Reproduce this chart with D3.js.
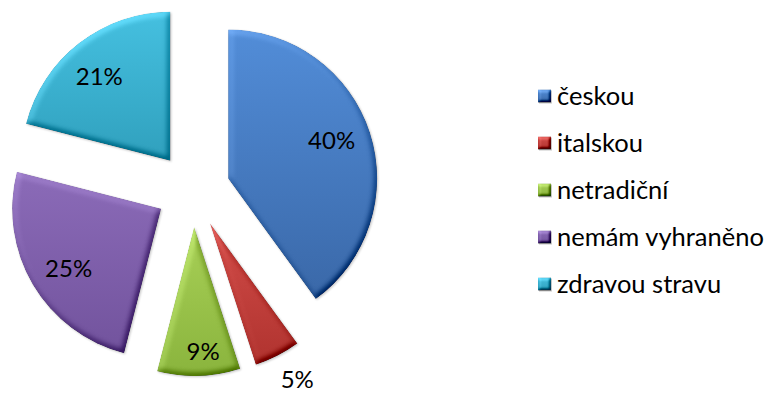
<!DOCTYPE html>
<html>
<head>
<meta charset="utf-8">
<script src="https://cdn.jsdelivr.net/npm/d3@7"></script>
<style>
  html, body { margin: 0; padding: 0; background: #fff; }
  svg { display: block; font-family: Lato, "Open Sans", sans-serif; }
</style>
</head>
<body>
<svg id="chart" width="767" height="394"></svg>
<script>
// Preferred cuisine survey – share of answers
const categories = ["českou", "italskou", "netradiční", "nemám vyhraněno", "zdravou stravu"];
const values = [40, 5, 9, 25, 21];
const labels = ["40%", "5%", "9%", "25%", "21%"];
const colorsLight = ["#528dd8", "#d24c48", "#a8d057", "#8b6bb8", "#45c0e0"];
const colorsDark  = ["#3a68a8", "#b0332f", "#8ab43d", "#72539d", "#30a0bd"];

const width = 767, height = 394;
const cx = 193, cy = 190;      // pie centre
const R = 149;                 // slice radius
const explode = 37;            // distance each slice is pulled out

const svg = d3.select("#chart");
const defs = svg.append("defs");

// vertical shading for each slice colour
categories.forEach((c, i) => {
  const g = defs.append("linearGradient")
    .attr("id", "grad" + i)
    .attr("x1", 0).attr("y1", 0).attr("x2", 0).attr("y2", 1);
  g.append("stop").attr("offset", "0%").attr("stop-color", colorsLight[i]);
  g.append("stop").attr("offset", "100%").attr("stop-color", colorsDark[i]);
});

// soft bevel: lit from the top-left, with a faint shadow under each shape
function bevelFilter(id, blur, scale, shadow, strength) {
  const f = defs.append("filter").attr("id", id)
    .attr("x", "-10%").attr("y", "-10%").attr("width", "120%").attr("height", "120%")
    .attr("color-interpolation-filters", "sRGB");
  f.append("feGaussianBlur").attr("in", "SourceAlpha").attr("stdDeviation", blur).attr("result", "blur");
  const light = f.append("feDiffuseLighting").attr("in", "blur")
    .attr("surfaceScale", scale).attr("diffuseConstant", 1)
    .attr("lighting-color", "#ffffff").attr("result", "diff");
  light.append("feDistantLight").attr("azimuth", 235).attr("elevation", 50);
  const flat = Math.sin(50 * Math.PI / 180);
  f.append("feComposite").attr("in", "SourceGraphic").attr("in2", "diff")
    .attr("operator", "arithmetic")
    .attr("k1", 0).attr("k2", 1).attr("k3", strength).attr("k4", -strength * flat)
    .attr("result", "lit");
  f.append("feComposite").attr("in", "lit").attr("in2", "SourceAlpha")
    .attr("operator", "in").attr("result", "shape");
  f.append("feGaussianBlur").attr("in", "SourceAlpha").attr("stdDeviation", shadow).attr("result", "sb");
  f.append("feOffset").attr("in", "sb").attr("dx", 0.6).attr("dy", 1.2).attr("result", "so");
  f.append("feComponentTransfer").attr("in", "so").attr("result", "sf")
    .append("feFuncA").attr("type", "linear").attr("slope", 0.22);
  const m = f.append("feMerge");
  m.append("feMergeNode").attr("in", "sf");
  m.append("feMergeNode").attr("in", "shape");
}
bevelFilter("bevel", 3.2, 3, 1.3, 0.5);
bevelFilter("bevelSmall", 1.6, 3, 0.7, 0.6);

const pie = d3.pie().sort(null).value(d => d).startAngle(0).endAngle(2 * Math.PI);
const arcs = pie(values);
const arc = d3.arc().innerRadius(0).outerRadius(R);

const pieG = svg.append("g").attr("transform", `translate(${cx},${cy})`);

const slice = pieG.selectAll("g.slice")
  .data(arcs)
  .join("g")
  .attr("class", "slice")
  .attr("transform", d => {
    const a = (d.startAngle + d.endAngle) / 2;
    return `translate(${explode * Math.sin(a)},${-explode * Math.cos(a)})`;
  });

slice.append("path")
  .attr("d", arc)
  .attr("fill", (d, i) => `url(#grad${i})`)
  .attr("filter", "url(#bevel)");

// percentage labels: narrow slices get their label pushed outward
slice.append("text")
  .attr("transform", d => {
    const span = d.endAngle - d.startAngle;
    const a = (d.startAngle + d.endAngle) / 2 - 0.04;
    const r = span < 0.4 ? R * 1.2 : span < 0.7 ? R * 0.84 : R * 0.74;
    return `translate(${r * Math.sin(a)},${-r * Math.cos(a)})`;
  })
  .attr("text-anchor", "middle")
  .attr("dy", "0.36em")
  .attr("font-size", 24)
  .attr("fill", "#000")
  .text((d, i) => labels[i]);

// legend
const legendX = 538, legendY = 96, legendStep = 47, box = 13;
const legend = svg.append("g");
const item = legend.selectAll("g")
  .data(categories)
  .join("g")
  .attr("transform", (d, i) => `translate(${legendX},${legendY + i * legendStep})`);

item.append("rect")
  .attr("x", 0).attr("y", -box / 2)
  .attr("width", box).attr("height", box)
  .attr("fill", (d, i) => `url(#grad${i})`)
  .attr("filter", "url(#bevelSmall)");

item.append("text")
  .attr("x", 19)
  .attr("dy", "0.36em")
  .attr("font-size", 25.5)
  .attr("fill", "#000")
  .text(d => d);
</script>
</body>
</html>
